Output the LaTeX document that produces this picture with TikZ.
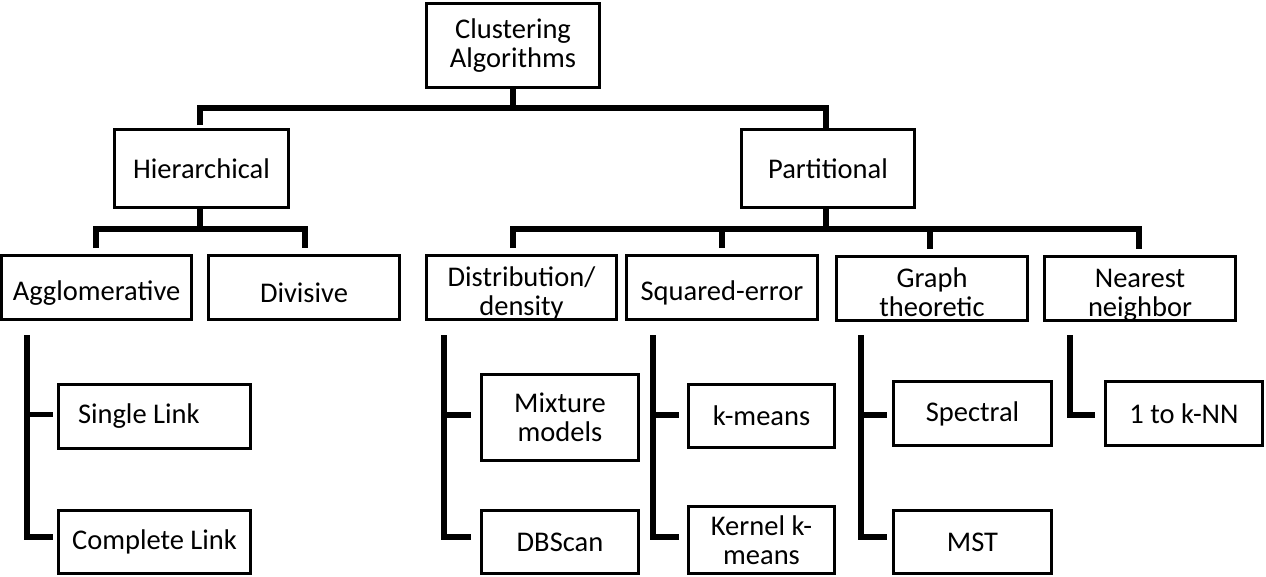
\documentclass[tikz,border=0pt]{standalone}
\usepackage{fontspec}
\setmainfont{Carlito}
\begin{document}
\begin{tikzpicture}[x=1pt,y=-1pt,
  box/.style={draw=black, line width=3pt, fill=white, inner sep=0pt, align=center,
    font=\fontsize{28.5}{29}\selectfont, line join=miter},
  midbox/.style={box, minimum height=64pt, text height=31pt},
  midboxtwo/.style={box, minimum height=64pt, text height=56pt, text depth=0pt},
  conn/.style={line width=5.5pt, line join=miter, line cap=butt}]
\useasboundingbox (0,0) rectangle (1266,576);

% boxes
\node[box, minimum width=173pt, minimum height=84pt] (root) at (513,45.5) {Clustering\\Algorithms};
\node[box, minimum width=174pt, minimum height=78pt] (hier) at (201.5,168.5) {Hierarchical};
\node[box, minimum width=173pt, minimum height=78pt] (part) at (828,168.5) {Partitional};

\node[midbox, minimum width=190pt] (agg) at (96.5,287.5) {Agglomerative};
\node[midbox, minimum width=191pt] (div) at (304,287.5) {Divisive};
\node[midboxtwo, minimum width=190pt] (dist) at (521.5,287.5) {Distribution/\\density};
\node[midbox, minimum width=191pt] (sq) at (722,287.5) {Squared-error};
\node[midboxtwo, minimum width=191pt] (graph) at (932,288.5) {Graph\\theoretic};
\node[midboxtwo, minimum width=191pt] (nn) at (1140,288.5) {Nearest\\neighbor};

\node[box, minimum width=192pt, minimum height=64pt] (single) at (154.5,416.5) {\makebox[192pt][l]{\hspace{19.5pt}Single Link}};
\node[box, minimum width=192pt, minimum height=63pt] (complete) at (154.5,542) {Complete Link};
\node[box, minimum width=157pt, minimum height=86pt] (mixture) at (560,417.5) {Mixture\\models};
\node[box, minimum width=157pt, minimum height=63pt] (dbscan) at (560,542) {DBScan};
\node[box, minimum width=146pt, minimum height=63pt] (kmeans) at (761.5,416) {k-means};
\node[box, minimum width=146pt, minimum height=67pt] (kernel) at (761.5,540) {Kernel k-\\means};
\node[box, minimum width=158pt, minimum height=64pt] (spectral) at (972.5,413.5) {Spectral};
\node[box, minimum width=158pt, minimum height=63pt] (mst) at (972.5,542) {MST};
\node[box, minimum width=157pt, minimum height=64pt] (knn) at (1184,413.5) {1 to k-NN};

% bus coordinates
\coordinate (busA) at (513,108);
\coordinate (busH) at (200,229);
\coordinate (busP) at (826,229);

% level 1
\draw[conn] (root.south) -- (busA);
\draw[conn, shorten <=3pt] ([xshift=-1.5pt]hier.north) |- (busA) -| ([xshift=-2pt]part.north);

% hierarchical
\draw[conn] ([xshift=-1.5pt]hier.south) -- (busH);
\draw[conn, shorten <=6pt, shorten >=6pt] ([xshift=-0.5pt]agg.north) |- (busH) -| ([xshift=1pt]div.north);

% partitional
\draw[conn] ([xshift=-2pt]part.south) -- (busP);
\draw[conn, shorten <=6pt, shorten >=6pt] ([xshift=-8.5pt]dist.north) |- (busP) -| ([xshift=-1pt]nn.north);
\draw[conn, shorten <=6pt] (sq.north) -- (sq.north |- busP);
\draw[conn, shorten <=6pt] ([xshift=-2pt]graph.north) -- ([xshift=-2pt]graph.north |- busP);

% brackets
\coordinate (aggT) at (27,335);
\draw[conn, shorten >=4pt] (aggT) |- ([yshift=2pt]single.west);
\draw[conn, shorten >=4pt] (aggT) |- ([yshift=5pt]complete.west);

\coordinate (distT) at (444,335);
\draw[conn, shorten >=9pt] (distT) |- ([yshift=2.5pt]mixture.west);
\draw[conn, shorten >=9pt] (distT) |- ([yshift=5pt]dbscan.west);

\coordinate (sqT) at (653,335);
\draw[conn, shorten >=8pt] (sqT) |- ([yshift=1pt]kmeans.west);
\draw[conn, shorten >=8pt] (sqT) |- ([yshift=3pt]kernel.west);

\coordinate (graphT) at (861,335);
\draw[conn, shorten >=5pt] (graphT) |- ([yshift=-1.5pt]spectral.west);
\draw[conn, shorten >=5pt] (graphT) |- ([yshift=5pt]mst.west);

\coordinate (nnT) at (1070,335);
\draw[conn, shorten >=9pt] (nnT) |- ([yshift=-1.5pt]knn.west);
\end{tikzpicture}
\end{document}
